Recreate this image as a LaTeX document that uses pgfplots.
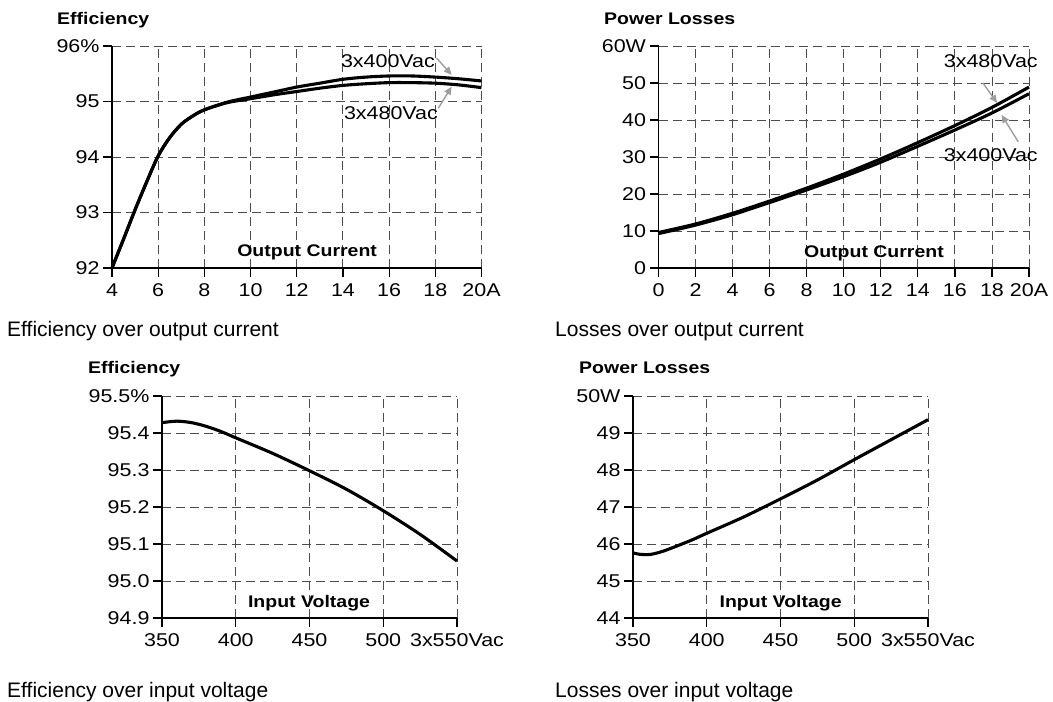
\documentclass[border=0pt]{standalone}
\usepackage{fontspec}
\setmainfont{Liberation Sans}
\newfontfamily\chartfont{Liberation Sans}[FakeStretch=1.16]
\usepackage{pgfplots}
\pgfplotsset{compat=1.18}
\usetikzlibrary{arrows.meta}

\definecolor{gridc}{gray}{0.3}
\definecolor{arrc}{gray}{0.62}

\pgfplotsset{
  chart/.style={
    scale only axis, clip=false,
    axis lines*=left,
    axis line style={line width=1.4pt, black},
    grid=major,
    major grid style={line width=0.9pt, gridc, dash pattern=on 9pt off 5pt},
    tick align=outside, major tick length=9pt,
    tick style={black, line width=1.2pt},
    tick label style={font=\chartfont\fontsize{18.5}{20}\selectfont, black},
    xticklabel style={yshift=-3.5pt},
    /pgf/number format/assume math mode=true,
  },
  curve/.style={black, line width=3.1pt, line join=round, smooth, no markers},
}
\newcommand{\ann}{\chartfont\fontsize{18.5}{20}\selectfont}
\newcommand{\inl}{\chartfont\fontsize{16.8}{18}\selectfont\bfseries}

\begin{document}
\begin{tikzpicture}
\useasboundingbox (0pt,0pt) rectangle (1053pt,-702pt);

% ---------------- Plot 1: Efficiency over output current
\begin{axis}[chart, at={(112pt,-268pt)}, anchor=south west,
  width=369.5pt, height=222pt,
  xmin=4, xmax=20, ymin=92, ymax=96,
  xtick={4,6,8,10,12,14,16,18,20}, xticklabels={4,6,8,10,12,14,16,18,20A},
  ytick={92,93,94,95,96}, yticklabels={92,93,94,95,96\%}]
\addplot[curve] coordinates {(4,92.0)(4.5,92.52)(5,93.05)(5.5,93.55)(6,94.02)(6.5,94.35)(7,94.59)(7.5,94.74)(8,94.85)(9,94.99)(10,95.08)(11,95.17)(12,95.26)(13,95.33)(14,95.40)(15,95.44)(16,95.46)(17,95.46)(18,95.44)(19,95.41)(20,95.37)};
\addplot[curve] coordinates {(4,92.0)(4.5,92.52)(5,93.05)(5.5,93.55)(6,94.02)(6.5,94.35)(7,94.59)(7.5,94.74)(8,94.85)(9,94.98)(10,95.05)(11,95.12)(12,95.18)(13,95.24)(14,95.29)(15,95.32)(16,95.34)(17,95.34)(18,95.33)(19,95.30)(20,95.25)};
\node[anchor=east, inner sep=0pt] at (axis cs:17.99,95.73) {\ann 3x400Vac};
\node[anchor=east, inner sep=0pt] at (axis cs:18.12,94.79) {\ann 3x480Vac};
\draw[arrc, line width=1.4pt, -{Triangle[length=8pt,width=7pt]}] (axis cs:18.06,95.78) -- (axis cs:18.71,95.48);
\draw[arrc, line width=1.4pt, -{Triangle[length=8pt,width=7pt]}] (axis cs:18.13,94.88) -- (axis cs:18.71,95.27);
\node at (axis cs:12.45,92.29) {\inl Output Current};
\end{axis}

% ---------------- Plot 2: Losses over output current
\begin{axis}[chart, at={(658.5pt,-268pt)}, anchor=south west,
  width=370.5pt, height=222pt,
  xmin=0, xmax=20, ymin=0, ymax=60,
  xtick={0,2,4,6,8,10,12,14,16,18,20}, xticklabels={0,2,4,6,8,10,12,14,16,18,20A},
  ytick={0,10,20,30,40,50,60}, yticklabels={0,10,20,30,40,50,60W}]
\addplot[curve] coordinates {(0,9.6)(2,11.9)(4,14.8)(6,18.1)(8,21.6)(10,25.4)(12,29.5)(14,33.9)(16,38.5)(18,43.4)(20,48.9)};
\addplot[curve] coordinates {(0,9.3)(2,11.6)(4,14.4)(6,17.7)(8,21.1)(10,24.7)(12,28.6)(14,32.9)(16,37.3)(18,41.9)(20,47.1)};
\node[anchor=east, inner sep=0pt] at (axis cs:20.48,55.8) {\ann 3x480Vac};
\node[anchor=east, inner sep=0pt] at (axis cs:20.48,30.5) {\ann 3x400Vac};
\draw[arrc, line width=1.4pt, -{Triangle[length=8pt,width=7pt]}] (axis cs:17.51,50.0) -- (axis cs:18.28,44.6);
\draw[arrc, line width=1.4pt, -{Triangle[length=8pt,width=7pt]}] (axis cs:19.42,34.1) -- (axis cs:18.52,41.4);
\node at (axis cs:11.63,4.05) {\inl Output Current};
\end{axis}

% ---------------- Plot 3: Efficiency over input voltage
\begin{axis}[chart, at={(162pt,-618pt)}, anchor=south west,
  width=295pt, height=222pt,
  xmin=350, xmax=550, ymin=94.9, ymax=95.5,
  xtick={350,400,450,500,550}, xticklabels={350,400,450,500,3x550Vac},
  ytick={94.9,95.0,95.1,95.2,95.3,95.4,95.5}, yticklabels={94.9,95.0,95.1,95.2,95.3,95.4,95.5\%}]
\addplot[curve] coordinates {(350,95.428)(360,95.432)(370,95.428)(380,95.418)(390,95.404)(400,95.387)(425,95.345)(450,95.298)(475,95.248)(500,95.190)(525,95.126)(550,95.054)};
\node at (axis cs:449.7,94.94) {\inl Input Voltage};
\end{axis}

% ---------------- Plot 4: Losses over input voltage
\begin{axis}[chart, at={(633pt,-618pt)}, anchor=south west,
  width=295pt, height=222pt,
  xmin=350, xmax=550, ymin=44, ymax=50,
  xtick={350,400,450,500,550}, xticklabels={350,400,450,500,3x550Vac},
  ytick={44,45,46,47,48,49,50}, yticklabels={44,45,46,47,48,49,50W}]
\addplot[curve] coordinates {(350,45.76)(355,45.72)(362,45.72)(370,45.80)(380,45.95)(390,46.11)(400,46.29)(425,46.73)(450,47.22)(475,47.73)(500,48.28)(525,48.82)(550,49.36)};
\node at (axis cs:450.1,44.4) {\inl Input Voltage};
\end{axis}

% ---------------- titles and captions
\node[anchor=base west, inner sep=0pt] at (57pt,-24pt) {\inl Efficiency};
\node[anchor=base west, inner sep=0pt] at (604pt,-24pt) {\inl Power Losses};
\node[anchor=base west, inner sep=0pt] at (88pt,-373pt) {\inl Efficiency};
\node[anchor=base west, inner sep=0pt] at (579pt,-373pt) {\inl Power Losses};
\node[anchor=base west, inner sep=0pt] at (7pt,-336pt) {\fontsize{21}{24}\selectfont Efficiency over output current};
\node[anchor=base west, inner sep=0pt] at (555pt,-336pt) {\fontsize{21}{24}\selectfont Losses over output current};
\node[anchor=base west, inner sep=0pt] at (7pt,-697pt) {\fontsize{21}{24}\selectfont Efficiency over input voltage};
\node[anchor=base west, inner sep=0pt] at (555pt,-697pt) {\fontsize{21}{24}\selectfont Losses over input voltage};
\end{tikzpicture}
\end{document}
